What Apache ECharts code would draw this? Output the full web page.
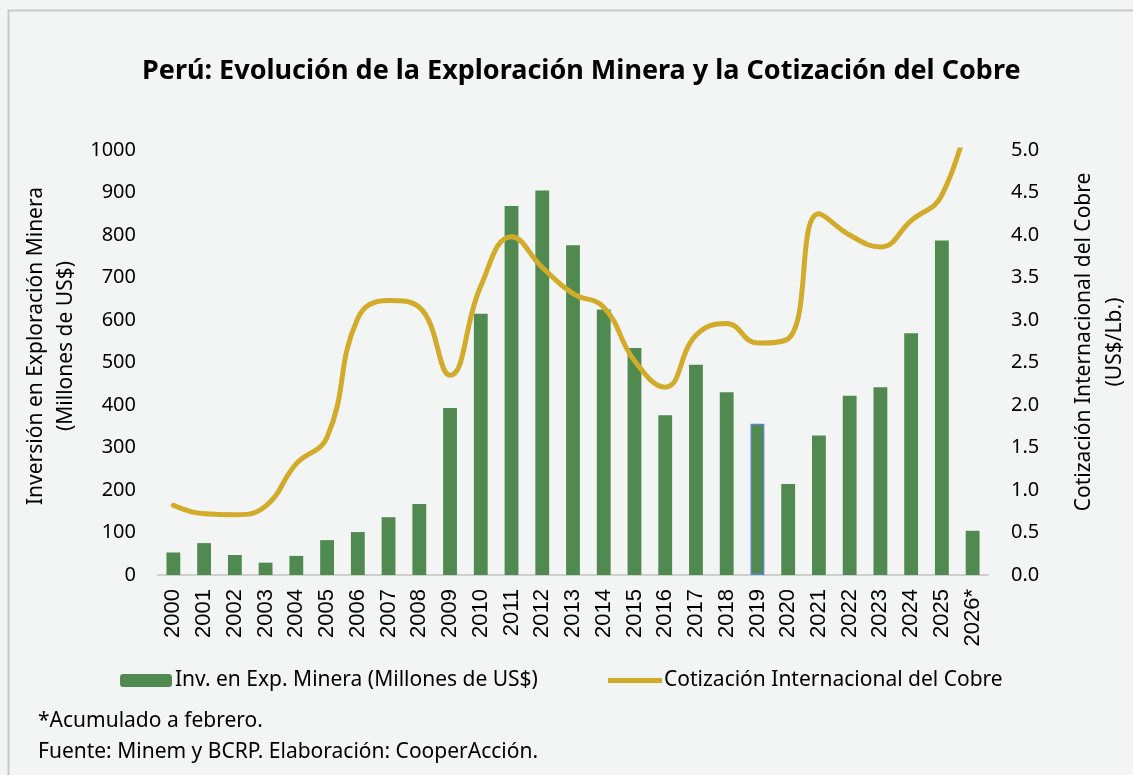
<!DOCTYPE html>
<html>
<head>
<meta charset="utf-8">
<script src="https://cdn.jsdelivr.net/npm/echarts@6/dist/echarts.min.js"></script>
<style>
  html, body { margin: 0; padding: 0; background: #f3f5f4; }
  #main { width: 1133px; height: 775px; }
</style>
</head>
<body>
<div id="main"></div>
<script>
// años (2026 acumulado a febrero)
const years = ['2000', '2001', '2002', '2003', '2004', '2005', '2006', '2007', '2008', '2009',
  '2010', '2011', '2012', '2013', '2014', '2015', '2016', '2017', '2018', '2019',
  '2020', '2021', '2022', '2023', '2024', '2025', '2026*'];
// Inversión en exploración minera (millones de US$)
const inversion = [53, 75, 47, 29, 45, 82, 101, 136, 167, 393,
  615, 868, 905, 776, 625, 534, 376, 495, 430, 356,
  214, 328, 422, 442, 569, 787, 104];
// Cotización internacional del cobre (US$/Lb.)
const cobre = [0.82, 0.72, 0.71, 0.81, 1.31, 1.62, 3.02, 3.23, 3.15, 2.35,
  3.40, 3.98, 3.62, 3.31, 3.15, 2.52, 2.21, 2.82, 2.96, 2.73,
  2.78, 4.25, 4.00, 3.86, 4.17, 4.47, 5.60];
const leftTicks = [0, 100, 200, 300, 400, 500, 600, 700, 800, 900, 1000];
const rightTicks = [0, 0.5, 1, 1.5, 2, 2.5, 3, 3.5, 4, 4.5, 5];

const serieBarra = 'Inv. en Exp. Minera (Millones de US$)';
const serieLinea = 'Cotización Internacional del Cobre';
const verde = '#508a50';
const dorado = '#d2ab2a';
const fuente = '"Noto Sans", "Open Sans", sans-serif';

const barData = inversion.map(function (v, i) {
  if (years[i] === '2019') {
    return { value: v, itemStyle: { borderColor: '#5b84c4', borderWidth: 1.5 } };
  }
  return v;
});

var myChart = echarts.init(document.getElementById('main'));
var option = {
  backgroundColor: '#f3f5f4',
  animation: false,
  title: {
    text: 'Perú: Evolución de la Exploración Minera y la Cotización del Cobre',
    left: 142,
    top: 58,
    padding: 0,
    textStyle: { fontFamily: fuente, fontWeight: 'bold', fontSize: 27, color: '#000' }
  },
  graphic: [
    { type: 'rect', shape: { x: 8.5, y: 10.5, width: 1140, height: 800 },
      style: { fill: 'none', stroke: '#c8c8c8', lineWidth: 2 }, silent: true },
    { type: 'text', x: 36, y: 346, rotation: Math.PI / 2,
      style: { text: 'Inversión en Exploración Minera', align: 'center', verticalAlign: 'middle',
        font: '21px ' + fuente, fill: '#000' } },
    { type: 'text', x: 66, y: 346, rotation: Math.PI / 2,
      style: { text: '(Millones de US$)', align: 'center', verticalAlign: 'middle',
        font: '21px ' + fuente, fill: '#000' } },
    { type: 'text', x: 1084, y: 342, rotation: Math.PI / 2,
      style: { text: 'Cotización Internacional del Cobre', align: 'center', verticalAlign: 'middle',
        font: '21px ' + fuente, fill: '#000' } },
    { type: 'text', x: 1115, y: 342, rotation: Math.PI / 2,
      style: { text: '(US$/Lb.)', align: 'center', verticalAlign: 'middle',
        font: '21px ' + fuente, fill: '#000' } },
    { type: 'text', x: 38, y: 721,
      style: { text: '*Acumulado a febrero.', verticalAlign: 'middle',
        font: '21px ' + fuente, fill: '#000' } },
    { type: 'text', x: 38, y: 752,
      style: { text: 'Fuente: Minem y BCRP. Elaboración: CooperAcción.', verticalAlign: 'middle',
        font: '21px ' + fuente, fill: '#000' } }
  ],
  legend: [{
    data: [serieBarra],
    left: 120,
    top: 670,
    padding: 0,
    itemWidth: 52,
    itemHeight: 13,
    textStyle: { fontFamily: fuente, fontSize: 21, color: '#000', padding: [0, 0, 0, -2] }
  }, {
    data: [{ name: serieLinea, icon: 'rect' }],
    left: 608,
    top: 670,
    padding: 0,
    itemWidth: 54,
    itemHeight: 5,
    textStyle: { fontFamily: fuente, fontSize: 21, color: '#000', padding: [0, 0, 0, -3] }
  }],
  grid: { left: 158, right: 145, top: 150, bottom: 200, containLabel: false },
  xAxis: {
    type: 'category',
    data: years,
    axisLine: { lineStyle: { color: '#cfcfcf', width: 2 } },
    axisTick: { show: false },
    axisLabel: {
      rotate: 90, margin: 14, interval: 0,
      fontFamily: '"Liberation Sans", Arial, sans-serif', fontSize: 22, color: '#000'
    }
  },
  yAxis: [{
    type: 'value',
    min: leftTicks[0],
    max: leftTicks[leftTicks.length - 1],
    interval: 100,
    axisLine: { show: false },
    axisTick: { show: false },
    splitLine: { show: false },
    axisLabel: {
      margin: 22, fontFamily: fuente, fontSize: 20, color: '#000',
      formatter: function (v) { return String(v); }
    }
  }, {
    type: 'value',
    min: rightTicks[0],
    max: rightTicks[rightTicks.length - 1],
    interval: 0.5,
    axisLine: { show: false },
    axisTick: { show: false },
    splitLine: { show: false },
    axisLabel: {
      margin: 23, fontFamily: fuente, fontSize: 20, color: '#000',
      formatter: function (v) { return v.toFixed(1); }
    }
  }],
  series: [{
    name: serieBarra,
    type: 'bar',
    data: barData,
    barWidth: '45%',
    itemStyle: { color: verde },
    yAxisIndex: 0
  }, {
    name: serieLinea,
    type: 'line',
    data: cobre,
    yAxisIndex: 1,
    smooth: 0.45,
    symbol: 'none',
    clip: true,
    z: 3,
    itemStyle: { color: dorado },
    lineStyle: { color: dorado, width: 5, cap: 'round' }
  }]
};
myChart.setOption(option);
</script>
</body>
</html>
